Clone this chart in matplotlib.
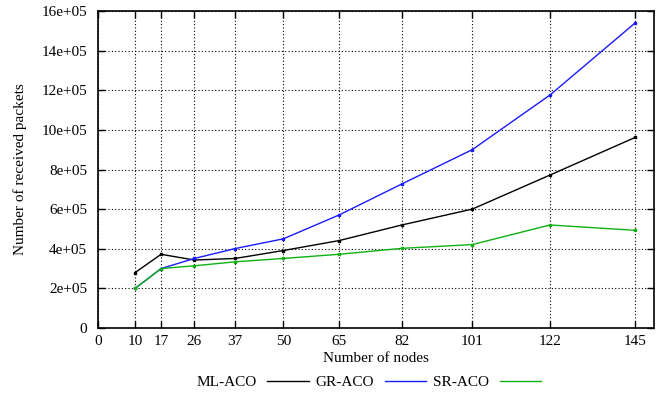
import matplotlib
matplotlib.use('Agg')
import matplotlib.pyplot as plt

# values
nodes = [10, 17, 26, 37, 50, 65, 82, 101, 122, 145]
ml_aco = [2.8e5, 3.72e5, 3.43e5, 3.51e5, 3.91e5, 4.41e5, 5.2e5, 6.0e5, 7.72e5, 9.62e5]
gr_aco = [2.0e5, 3.0e5, 3.51e5, 4.01e5, 4.5e5, 5.7e5, 7.27e5, 9.0e5, 11.76e5, 15.4e5]
sr_aco = [2.0e5, 3.0e5, 3.14e5, 3.34e5, 3.51e5, 3.72e5, 4.02e5, 4.21e5, 5.2e5, 4.93e5]

xticks = [0] + nodes
yticks = [0, 2e5, 4e5, 6e5, 8e5, 10e5, 12e5, 14e5, 16e5]
ylabels = ['0', '2e+05', '4e+05', '6e+05', '8e+05', '10e+05', '12e+05', '14e+05', '16e+05']

plt.rcParams['font.family'] = 'Liberation Serif'
plt.rcParams['font.size'] = 11

fig = plt.figure(figsize=(6.63, 4.0), dpi=100)
ax = fig.add_axes([0.148, 0.18, 0.838, 0.7925])

# plot each series with tiny point markers, like gnuplot
ax.plot(nodes, ml_aco, color='black', lw=1.0, marker='s', ms=1.6, label='ML-ACO')
ax.plot(nodes, gr_aco, color='#1a1aff', lw=1.0, marker='s', ms=1.6, label='GR-ACO')
ax.plot(nodes, sr_aco, color='#10b010', lw=1.0, marker='s', ms=1.6, label='SR-ACO')

ax.set_xlim(0, 150)
ax.set_ylim(0, 16e5)
ax.set_xticks(xticks)
ax.set_xticklabels([str(v) for v in xticks])
ax.set_yticks(yticks)
ax.set_yticklabels(ylabels)

ax.grid(True, color='black', linestyle=(0, (1, 2)), linewidth=0.8)
ax.tick_params(direction='in', length=5, width=1, top=True, right=True)
ax.tick_params(axis='x', pad=5)
ax.tick_params(axis='y', pad=8)
for s in ax.spines.values():
    s.set_linewidth(1.2)

ax.set_xlabel('Number of nodes', labelpad=3)
ax.set_ylabel('Number of received packets', labelpad=10)

ax.legend(loc='center', bbox_to_anchor=(0.556, 0.045), bbox_transform=fig.transFigure,
          ncol=3, frameon=False, markerfirst=False, handlelength=2.7,
          columnspacing=0.45, handletextpad=0.7)
# hide markers in legend handles
for h in ax.get_legend().get_lines():
    h.set_marker('')

plt.savefig('out.png', dpi=100)
